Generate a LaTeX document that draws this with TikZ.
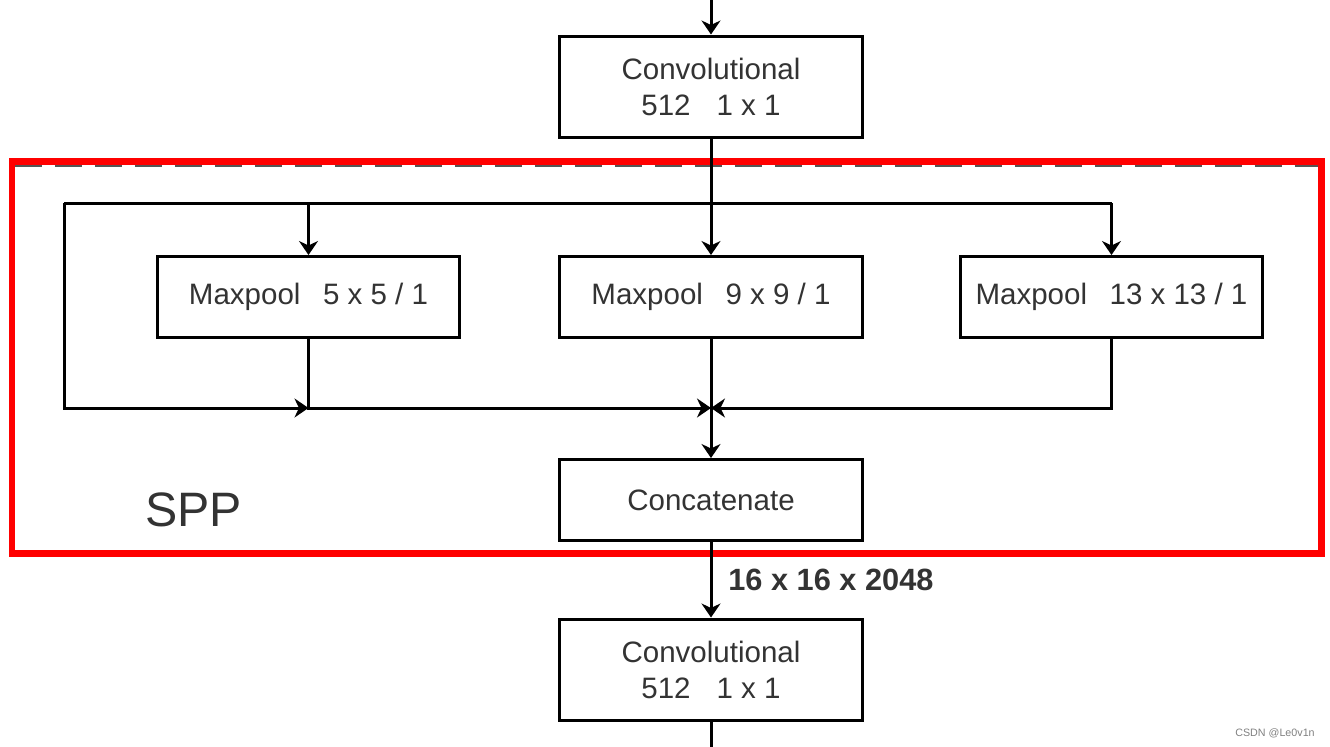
\documentclass[tikz,border=0pt]{standalone}
\usepackage{fontspec}
\setmainfont{Liberation Sans}
\usetikzlibrary{arrows.meta}
\definecolor{txtgray}{HTML}{333333}
\definecolor{sppred}{HTML}{FF0000}
\definecolor{dashgray}{HTML}{555555}

\begin{document}
\begin{tikzpicture}[x=0.02cm,y=-0.02cm,
		layer/.style={draw=black,line width=0.06cm,fill=white,minimum width=6.05cm,
			inner sep=0pt,align=center,text=txtgray,font=\fontsize{16.8}{20}\selectfont},
		tall/.style={layer,minimum height=2.04cm},
		short/.style={layer,minimum height=1.62cm},
		wire/.style={line width=0.06cm,black},
		link/.style={wire,-{Stealth[length=0.28cm,width=0.38cm,inset=0.09cm]}}]
			\useasboundingbox (0,0) rectangle (1330,747);
			% layers
			\node [tall] (conv1) at (711,87) {Convolutional\\512\hspace{0.52cm}1 x 1};
			\node [short] (pool5) at (308.5,297) {Maxpool\hspace{0.45cm}5 x 5 / 1};
			\node [short] (pool9) at (711,297) {Maxpool\hspace{0.45cm}9 x 9 / 1};
			\node [short] (pool13) at (1111.5,297) {Maxpool\hspace{0.45cm}13 x 13 / 1};
			\node [short] (concat) at (711,500) {Concatenate};
			\node [tall] (conv2) at (711,670) {Convolutional\\512\hspace{0.52cm}1 x 1};
			\coordinate (top) at (711,0);
			\coordinate (bot) at (711,747);
			\coordinate (split) at (64,203);
			\coordinate (merge) at (711,408);
			% spp frame
			\draw [dashgray,line width=0.04cm,dash pattern=on 0.54cm off 0.26cm] (15,166) -- (1318,166);
			\draw [sppred,line width=0.14cm] (12,161) rectangle (1321,553);
			\node [txtgray,font=\fontsize{27.5}{30}\selectfont,inner sep=0pt] (spp) at (193.5,510) {SPP};
			% connections
			\draw [link] (top) -- (conv1);
			\draw [link] (conv1) -- (pool9);
			\draw [wire] (split) -- (split -| pool13);
			\draw [link] (split -| pool5) -- (pool5);
			\draw [link] (split -| pool13) -- (pool13);
			\draw [link] (split) |- (merge -| pool5);
			\draw [link] (pool5) |- (merge);
			\draw [link] (pool13) |- (merge);
			\draw [link] (pool9) -- (concat);
			\draw [link] (concat) -- node [right,xshift=0.2cm,text=txtgray,font=\bfseries\fontsize{17.5}{20}\selectfont] (shape) {16 x 16 x 2048} (conv2);
			\draw [wire] (conv2) -- (bot);
			\node [text=gray,font=\fontsize{6.1}{7}\selectfont] (mark) at (1275,733) {CSDN @Le0v1n};
\end{tikzpicture}
\end{document}
